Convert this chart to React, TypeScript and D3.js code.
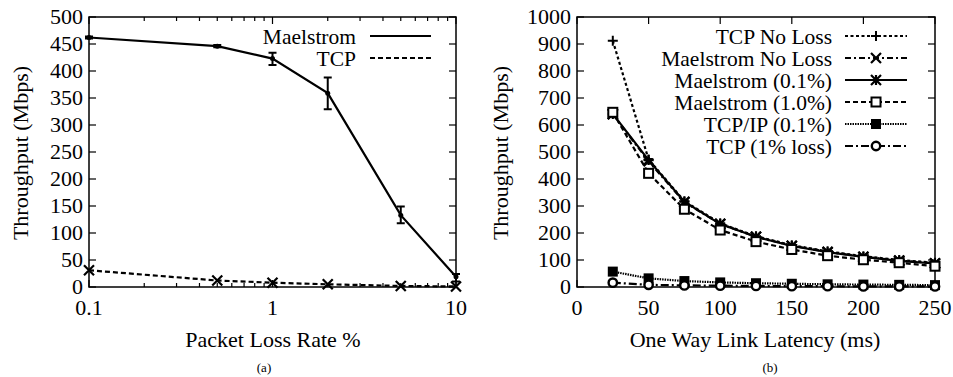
import React from "react";
import * as d3 from "d3";

// ---------- Data: chart (a) ----------
const lossRates = [0.1, 0.5, 1, 2, 5, 10];
const maelstromTput = [462, 446, 423, 359, 133, 19];
const maelstromLow = [460, 444, 411, 329, 118, 10];
const maelstromHigh = [464, 448, 434, 388, 149, 24];
const tcpTput = [31, 12, 8, 5, 2, 1];
const aYTicks = [0, 50, 100, 150, 200, 250, 300, 350, 400, 450, 500];
const aXTicks = [0.1, 1, 10];

// ---------- Data: chart (b) ----------
const latencies = [25, 50, 75, 100, 125, 150, 175, 200, 225, 250];
const tcpNoLoss = [912, 472, 318, 236, 188, 155, 132, 114, 100, 90];
const maelNoLoss = [640, 466, 314, 234, 186, 153, 130, 112, 98, 88];
const mael01 = [641, 470, 316, 233, 186, 152, 129, 111, 97, 87];
const mael10 = [647, 421, 288, 211, 168, 139, 116, 101, 90, 77];
const tcpIp01 = [57, 32, 22, 17, 14, 12, 10, 9, 8, 7];
const tcp1 = [16, 8, 6, 5, 4, 3, 3, 2, 2, 2];
const bYTicks = [0, 100, 200, 300, 400, 500, 600, 700, 800, 900, 1000];
const bXTicks = [0, 50, 100, 150, 200, 250];

const FONT = "Liberation Serif";
const FS = 22;
const LEG_FS = 21.5;

type Marker = "plus" | "x" | "star" | "sq" | "fsq" | "circ" | "none";

function T(props: any) {
  const { size, children, ...rest } = props;
  return (
    <text {...rest} style={{ fontFamily: FONT, fontSize: size ?? FS }} fill="#000">
      {children}
    </text>
  );
}

function MarkerShape({ kind, x, y }: { kind: Marker; x: number; y: number }) {
  const s = 5;
  switch (kind) {
    case "plus":
      return <path d={`M${x - s},${y}H${x + s}M${x},${y - s}V${y + s}`} stroke="#000" strokeWidth={2} />;
    case "x":
      return <path d={`M${x - s},${y - s}L${x + s},${y + s}M${x - s},${y + s}L${x + s},${y - s}`} stroke="#000" strokeWidth={2.2} />;
    case "star":
      return (
        <path
          d={`M${x - s},${y - s}L${x + s},${y + s}M${x - s},${y + s}L${x + s},${y - s}M${x - s},${y}H${x + s}M${x},${y - s}V${y + s}`}
          stroke="#000"
          strokeWidth={2.2}
        />
      );
    case "sq":
      return <rect x={x - 4.5} y={y - 4.5} width={9} height={9} fill="#fff" stroke="#000" strokeWidth={2} />;
    case "fsq":
      return <rect x={x - 5} y={y - 5} width={10} height={10} fill="#000" />;
    case "circ":
      return <circle cx={x} cy={y} r={4.2} fill="#fff" stroke="#000" strokeWidth={2.4} />;
    default:
      return null;
  }
}

function ChartA() {
  const x = d3.scaleLog().domain([0.1, 10]).range([89, 456]);
  const y = d3.scaleLinear().domain([0, 500]).range([287, 17]);
  const [x0, x1] = x.range();
  const [yb, yt] = y.range();
  const minor: number[] = [];
  for (const dec of [0.1, 1]) for (let k = 2; k <= 9; k++) minor.push(dec * k);
  const line = d3
    .line<number>()
    .x((_, i) => x(lossRates[i]))
    .y((d) => y(d));
  return (
    <g>
      {aYTicks.map((t) => (
        <g key={"ay" + t}>
          <line x1={x0} x2={x0 + 7} y1={y(t)} y2={y(t)} stroke="#000" strokeWidth={1.2} />
          <line x1={x1} x2={x1 - 7} y1={y(t)} y2={y(t)} stroke="#000" strokeWidth={1.2} />
          <T x={x0 - 6} y={y(t)} dy="0.32em" textAnchor="end">
            {t}
          </T>
        </g>
      ))}
      {aXTicks.map((t) => (
        <g key={"ax" + t}>
          <line x1={x(t)} x2={x(t)} y1={yb} y2={yb - 7} stroke="#000" strokeWidth={1.2} />
          <line x1={x(t)} x2={x(t)} y1={yt} y2={yt + 7} stroke="#000" strokeWidth={1.2} />
          <T x={x(t)} y={315} textAnchor="middle">
            {t}
          </T>
        </g>
      ))}
      {minor.map((t) => (
        <g key={"am" + t}>
          <line x1={x(t)} x2={x(t)} y1={yb} y2={yb - 4} stroke="#000" strokeWidth={1.2} />
          <line x1={x(t)} x2={x(t)} y1={yt} y2={yt + 4} stroke="#000" strokeWidth={1.2} />
        </g>
      ))}
      <rect x={x0} y={yt} width={x1 - x0} height={yb - yt} fill="none" stroke="#000" strokeWidth={1.5} />
      <path d={line(maelstromTput) || ""} fill="none" stroke="#000" strokeWidth={2.2} />
      <path d={line(tcpTput) || ""} fill="none" stroke="#000" strokeWidth={2.2} strokeDasharray="5,3" />
      {lossRates.map((r, i) => (
        <g key={"eb" + r}>
          <path
            d={`M${x(r)},${y(maelstromLow[i])}V${y(maelstromHigh[i])}M${x(r) - 4},${y(maelstromLow[i])}H${x(r) + 4}M${x(r) - 4},${y(maelstromHigh[i])}H${x(r) + 4}`}
            stroke="#000"
            strokeWidth={2}
            fill="none"
          />
          <circle cx={x(r)} cy={y(maelstromTput[i])} r={2.5} fill="#000" />
          <MarkerShape kind="x" x={x(r)} y={y(tcpTput[i])} />
        </g>
      ))}
      <T x={356} y={37} dy="0.33em" textAnchor="end" size={LEG_FS}>
        Maelstrom
      </T>
      <line x1={370} x2={431} y1={36} y2={36} stroke="#000" strokeWidth={2.2} />
      <T x={356} y={59} dy="0.33em" textAnchor="end" size={LEG_FS}>
        TCP
      </T>
      <line x1={370} x2={431} y1={58} y2={58} stroke="#000" strokeWidth={2.2} strokeDasharray="5,3" />
      <T x={273} y={347} textAnchor="middle">
        Packet Loss Rate %
      </T>
      <T transform="translate(28,153) rotate(-90)" textAnchor="middle">
        Throughput (Mbps)
      </T>
      <T x={264} y={372} textAnchor="middle" size={13}>
        (a)
      </T>
    </g>
  );
}

const bSeries = [
  { name: "TCP No Loss", values: tcpNoLoss, dash: "3,2.5", marker: "plus" as Marker },
  { name: "Maelstrom No Loss", values: maelNoLoss, dash: "6,3,2,3", marker: "x" as Marker },
  { name: "Maelstrom (0.1%)", values: mael01, dash: "none", marker: "star" as Marker },
  { name: "Maelstrom (1.0%)", values: mael10, dash: "5,3", marker: "sq" as Marker },
  { name: "TCP/IP (0.1%)", values: tcpIp01, dash: "1.5,1", marker: "fsq" as Marker },
  { name: "TCP (1% loss)", values: tcp1, dash: "8,3,2,3", marker: "circ" as Marker },
];

function ChartB() {
  const x = d3.scaleLinear().domain([0, 250]).range([577, 935]);
  const y = d3.scaleLinear().domain([0, 1000]).range([287, 17]);
  const [x0, x1] = x.range();
  const [yb, yt] = y.range();
  const line = d3
    .line<number>()
    .x((_, i) => x(latencies[i]))
    .y((d) => y(d));
  const legY = [37, 59, 81, 103, 125, 147];
  return (
    <g>
      {bYTicks.map((t) => (
        <g key={"by" + t}>
          <line x1={x0} x2={x0 + 7} y1={y(t)} y2={y(t)} stroke="#000" strokeWidth={1.2} />
          <line x1={x1} x2={x1 - 7} y1={y(t)} y2={y(t)} stroke="#000" strokeWidth={1.2} />
          <T x={x0 - 6} y={y(t)} dy="0.32em" textAnchor="end">
            {t}
          </T>
        </g>
      ))}
      {bXTicks.map((t) => (
        <g key={"bx" + t}>
          <line x1={x(t)} x2={x(t)} y1={yb} y2={yb - 7} stroke="#000" strokeWidth={1.2} />
          <line x1={x(t)} x2={x(t)} y1={yt} y2={yt + 7} stroke="#000" strokeWidth={1.2} />
          <T x={x(t)} y={315} textAnchor="middle">
            {t}
          </T>
        </g>
      ))}
      <rect x={x0} y={yt} width={x1 - x0} height={yb - yt} fill="none" stroke="#000" strokeWidth={1.5} />
      {bSeries.map((s) => (
        <g key={s.name}>
          <path d={line(s.values) || ""} fill="none" stroke="#000" strokeWidth={2.2} strokeDasharray={s.dash} />
          {s.values.map((v, i) => (
            <MarkerShape key={i} kind={s.marker} x={x(latencies[i])} y={y(v)} />
          ))}
        </g>
      ))}
      {bSeries.map((s, i) => (
        <g key={"leg" + s.name}>
          <rect x={650} y={legY[i] - 11} width={260} height={22} fill="#fff" />
          <T x={832} y={legY[i]} dy="0.33em" textAnchor="end" size={LEG_FS}>
            {s.name}
          </T>
          <line x1={845} x2={907} y1={legY[i] - 1} y2={legY[i] - 1} stroke="#000" strokeWidth={2.2} strokeDasharray={s.dash} />
          <MarkerShape kind={s.marker} x={876} y={legY[i] - 1} />
        </g>
      ))}
      <T x={755} y={347} textAnchor="middle">
        One Way Link Latency (ms)
      </T>
      <T transform="translate(508,153) rotate(-90)" textAnchor="middle">
        Throughput (Mbps)
      </T>
      <T x={770} y={372} textAnchor="middle" size={13}>
        (b)
      </T>
    </g>
  );
}

export default function App() {
  return (
    <svg
      width={953}
      height={377}
      viewBox="0 0 953 377"
      style={{ position: "absolute", left: 0, top: 0, background: "#fff" }}
    >
      <rect width={953} height={377} fill="#fff" />
      <ChartA />
      <ChartB />
    </svg>
  );
}
